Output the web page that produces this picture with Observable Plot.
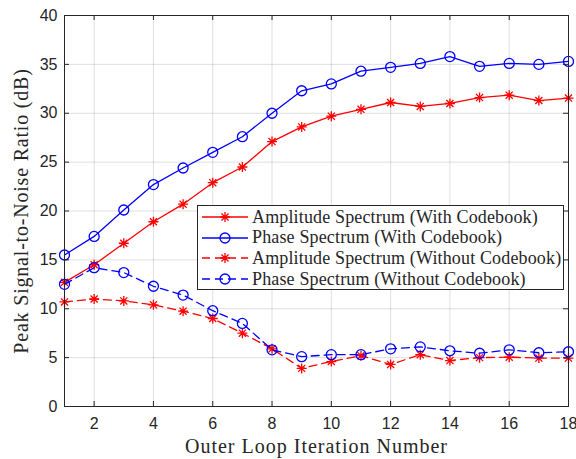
<!DOCTYPE html>
<html>
<head>
<meta charset="utf-8">
<script src="https://cdn.jsdelivr.net/npm/d3@7"></script>
<script src="https://cdn.jsdelivr.net/npm/@observablehq/plot@0.6"></script>
<style>
  html, body { margin: 0; padding: 0; background: #fff; }
  #wrap { position: relative; width: 576px; height: 459px; }
  #wrap svg text { fill: #262626; }
  g[aria-label="x-axis label"] text {
    font-family: "Liberation Serif", serif; font-size: 20px; letter-spacing: 1px; fill: #262626;
  }
  g[aria-label="y-axis label"] text {
    font-family: "Liberation Serif", serif; font-size: 20px; letter-spacing: 0.8px; fill: #262626;
  }
  #legend {
    position: absolute; left: 197px; top: 205px; width: 367px; height: 85px;
    border: 1px solid #262626; background: #fff; box-sizing: border-box;
    font-family: "Liberation Serif", serif; font-size: 18px; letter-spacing: 0.15px; color: #262626;
    padding-top: 1px;
  }
  .row { display: flex; align-items: center; height: 20.6px; white-space: nowrap; }
  .row svg { flex: none; margin-left: 4px; margin-right: 4px; }
</style>
</head>
<body>
<div id="wrap"></div>
<script>
const iterations = [1,2,3,4,5,6,7,8,9,10,11,12,13,14,15,16,17,18];
const ampWith = [12.7,14.5,16.7,18.9,20.7,22.9,24.5,27.1,28.6,29.7,30.4,31.1,30.7,31.0,31.6,31.85,31.3,31.55];
const phaseWith = [15.5,17.4,20.1,22.7,24.4,26.0,27.6,30.0,32.3,33.0,34.3,34.7,35.1,35.8,34.8,35.1,35.0,35.3];
const ampWithout = [10.7,11.0,10.8,10.4,9.75,9.0,7.5,5.9,3.9,4.6,5.2,4.3,5.3,4.7,5.0,5.05,4.95,4.95];
const phaseWithout = [12.5,14.2,13.7,12.3,11.4,9.8,8.5,5.8,5.1,5.3,5.3,5.9,6.1,5.7,5.45,5.8,5.5,5.6];
const seriesNames = [
  "Amplitude Spectrum (With Codebook)",
  "Phase Spectrum (With Codebook)",
  "Amplitude Spectrum (Without Codebook)",
  "Phase Spectrum (Without Codebook)"
];
const xTicks = [2,4,6,8,10,12,14,16,18];
const yTicks = [0,5,10,15,20,25,30,35,40];

const RED = "#ff0000", BLUE = "#0000ff";
const styles = [
  {values: ampWith, color: RED, dash: null, marker: "star"},
  {values: phaseWith, color: BLUE, dash: null, marker: "circle"},
  {values: ampWithout, color: RED, dash: "8,5", marker: "star"},
  {values: phaseWithout, color: BLUE, dash: "8,5", marker: "circle"}
];

const star8 = {
  draw(ctx, size) {
    const r = Math.sqrt(size / Math.PI);
    const d = r * Math.SQRT1_2;
    ctx.moveTo(-r, 0); ctx.lineTo(r, 0);
    ctx.moveTo(0, -r); ctx.lineTo(0, r);
    ctx.moveTo(-d, -d); ctx.lineTo(d, d);
    ctx.moveTo(-d, d); ctx.lineTo(d, -d);
  }
};

const W = 576, H = 459, mL = 64, mR = 8, mT = 15, mB = 53;
const fw = W - mL - mR, fh = H - mT - mB, tk = 5;

const marks = [
  Plot.gridX(xTicks, {stroke: "#262626", strokeOpacity: 0.15, strokeWidth: 1}),
  Plot.gridY(yTicks, {stroke: "#262626", strokeOpacity: 0.15, strokeWidth: 1})
];
styles.forEach((s, i) => {
  const data = iterations.map((x, j) => ({x, y: s.values[j]}));
  marks.push(Plot.line(data, {x: "x", y: "y", stroke: s.color, strokeWidth: 1.3, strokeDasharray: s.dash}));
  marks.push(Plot.dot(data, {
    x: "x", y: "y",
    symbol: s.marker === "star" ? star8 : "circle",
    r: 5,
    stroke: s.color, fill: "none", strokeWidth: 1.3
  }));
});
marks.push(
  Plot.tickX(xTicks, {x: d => d, stroke: "#262626", insetTop: fh - tk}),
  Plot.tickX(xTicks, {x: d => d, stroke: "#262626", insetBottom: fh - tk}),
  Plot.tickY(yTicks, {y: d => d, stroke: "#262626", insetRight: fw - tk}),
  Plot.tickY(yTicks, {y: d => d, stroke: "#262626", insetLeft: fw - tk}),
  Plot.frame({stroke: "#262626", strokeWidth: 1}),
  Plot.axisX(xTicks, {tickSize: 0, tickPadding: 11, label: "Outer Loop Iteration Number", labelArrow: "none", labelAnchor: "center", labelOffset: 46, fontSize: 16}),
  Plot.axisY(yTicks, {tickSize: 0, tickPadding: 7, label: "Peak Signal-to-Noise Ratio (dB)", labelArrow: "none", labelAnchor: "center", labelOffset: 51, fontSize: 16})
);

const chart = Plot.plot({
  width: W, height: H,
  marginLeft: mL, marginRight: mR, marginTop: mT, marginBottom: mB,
  x: {domain: [1, 18]},
  y: {domain: [0, 40]},
  style: {fontFamily: "'Liberation Sans', Arial, sans-serif", fontSize: "16px", color: "#262626", background: "#fff"},
  marks
});
const wrap = document.getElementById("wrap");
wrap.appendChild(chart);

// Legend overlay
const legend = document.createElement("div");
legend.id = "legend";
seriesNames.forEach((name, i) => {
  const s = styles[i];
  const row = document.createElement("div");
  row.className = "row";
  const ns = "http://www.w3.org/2000/svg";
  const svg = document.createElementNS(ns, "svg");
  svg.setAttribute("width", 46); svg.setAttribute("height", 14);
  const line = document.createElementNS(ns, "line");
  line.setAttribute("x1", 0); line.setAttribute("x2", 46);
  line.setAttribute("y1", 7); line.setAttribute("y2", 7);
  line.setAttribute("stroke", s.color); line.setAttribute("stroke-width", 1.3);
  if (s.dash) line.setAttribute("stroke-dasharray", s.dash);
  svg.appendChild(line);
  const p = document.createElementNS(ns, "path");
  if (s.marker === "star") {
    const path = d3.path(); star8.draw(path, 25 * Math.PI);
    p.setAttribute("d", path.toString());
  } else {
    p.setAttribute("d", d3.symbol(d3.symbolCircle, 25 * Math.PI)());
  }
  p.setAttribute("transform", "translate(23,7)");
  p.setAttribute("stroke", s.color); p.setAttribute("stroke-width", 1.3);
  p.setAttribute("fill", "none");
  svg.appendChild(p);
  row.appendChild(svg);
  const t = document.createElement("span");
  t.textContent = name;
  row.appendChild(t);
  legend.appendChild(row);
});
wrap.appendChild(legend);
</script>
</body>
</html>
